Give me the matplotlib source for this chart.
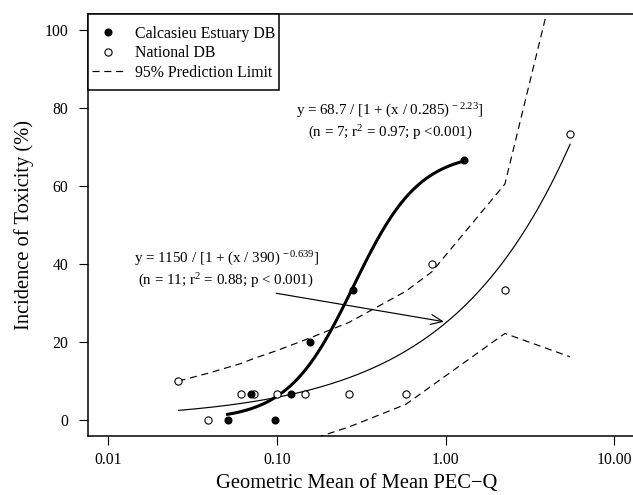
import numpy as np
import matplotlib
matplotlib.use("Agg")
from matplotlib import pyplot as plt
from matplotlib.patches import Rectangle

plt.rcParams['font.family'] = ['Liberation Serif', 'DejaVu Serif']
plt.rcParams['mathtext.fontset'] = 'custom'
plt.rcParams['mathtext.rm'] = 'Liberation Serif'
plt.rcParams['mathtext.it'] = 'Liberation Serif:italic'

######## data
# Calcasieu Estuary DB (filled points)
calc_x = [0.051, 0.070, 0.098, 0.122, 0.157, 0.284, 1.29]
calc_y = [0.0, 6.67, 0.0, 6.67, 20.0, 33.3, 66.7]

# National DB (open points)
nat_x = [0.0261, 0.0392, 0.0614, 0.0733, 0.100, 0.146, 0.267, 0.581, 0.83, 2.25, 5.48]
nat_y = [10.0, 0.0, 6.67, 6.67, 6.67, 6.67, 6.67, 6.67, 40.0, 33.3, 73.3]

# 95% prediction limits, evaluated at the national x values
upper_pl = [10.0, 12.0, 14.5, 15.8, 17.8, 20.5, 25.0, 33.0, 38.0, 60.5, 129.0]
lower_pl = [-12.0, -11.0, -10.0, -9.5, -8.0, -5.5, -1.8, 4.0, 8.8, 22.2, 16.2]

# fitted models as printed on the chart: y = a / [1 + (x / b)^c]
calc_fit = (68.7, 0.285, -2.23)
nat_fit = (1150.0, 390.0, -0.639)

xticks = [0.01, 0.1, 1.0, 10.0]
xtick_labels = ['0.01', '0.10', '1.00', '10.00']
yticks = [0, 20, 40, 60, 80, 100]


def model(x, p):
    a, b, c = p
    return a / (1.0 + (x / b) ** c)


fig = plt.figure(figsize=(6.33, 4.95), dpi=100)
ax = fig.add_axes([0.139, 0.1192, 0.8632, 0.8525])

# fitted curves
xc = np.logspace(np.log10(min(calc_x)), np.log10(max(calc_x)), 200)
ax.plot(xc, model(xc, calc_fit), color='black', lw=2.2, zorder=3)
xn = np.logspace(np.log10(min(nat_x)), np.log10(max(nat_x)), 200)
ax.plot(xn, model(xn, nat_fit), color='black', lw=0.85, zorder=3)

# prediction limits
ax.plot(nat_x, upper_pl, color='black', lw=0.85, dashes=(6, 4), zorder=2)
ax.plot(nat_x, lower_pl, color='black', lw=0.85, dashes=(6, 4), zorder=2)

# points
ax.plot(calc_x, calc_y, 'o', color='black', ms=4.8, zorder=5,
        label='Calcasieu Estuary DB')
ax.plot(nat_x, nat_y, 'o', mfc='white', mec='black', mew=0.8, ms=5.2,
        zorder=4, label='National DB')
ax.plot([], [], color='black', lw=0.85, dashes=(6, 4),
        label='95% Prediction Limit')

# equations
fs_eq = 10.8
ax.text(0.47, 79.2, r'y = 68.7 / [1 + (x / 0.285)$^{\,-2.23}$]',
        ha='center', va='center', fontsize=fs_eq)
ax.text(0.47, 73.6, r'(n = 7; r$^2$ = 0.97; p <0.001)',
        ha='center', va='center', fontsize=fs_eq)
ax.text(0.0501, 41.4, r'y = 1150 / [1 + (x / 390)$^{\,-0.639}$]',
        ha='center', va='center', fontsize=fs_eq)
ax.text(0.0501, 35.8, r'(n = 11; r$^2$ = 0.88; p < 0.001)',
        ha='center', va='center', fontsize=fs_eq)
ax.annotate('', xy=(0.98, 25.2), xytext=(0.099, 32.5),
            arrowprops=dict(arrowstyle='->,head_length=0.7,head_width=0.3',
                            lw=0.85, color='black', shrinkA=0, shrinkB=0,
                            mutation_scale=12))

ax.set_xscale('log')
ax.set_xlim(10 ** -2.12, 10 ** 1.12)
ax.set_ylim(-4.1, 104.1)
ax.set_xticks(xticks)
ax.set_xticklabels(xtick_labels)
ax.minorticks_off()
ax.set_yticks(yticks)
ax.tick_params(direction='out', length=6.5, width=0.8, labelsize=11.3)
ax.tick_params(axis='x', pad=5)
ax.tick_params(axis='y', pad=7.5)
for s in ax.spines.values():
    s.set_linewidth(1.1)

ax.set_xlabel('Geometric Mean of Mean PEC\u2212Q', fontsize=14.8,
              labelpad=4, x=0.4918)
ax.set_ylabel('Incidence of Toxicity (%)', fontsize=14.8, labelpad=8)

# legend box (R style: tight on the right, handles close to the border)
ax.add_patch(Rectangle((0, 0.820), 0.349, 0.18, transform=ax.transAxes,
                       facecolor='white', edgecolor='black', lw=1.1,
                       clip_on=False, zorder=6))
leg = ax.legend(loc='upper left', bbox_to_anchor=(-0.0146, 1.0),
                borderaxespad=0, frameon=False, fontsize=11.4,
                handlelength=2.0, handletextpad=0.72, borderpad=0.75,
                labelspacing=0.22)
leg.set_zorder(7)

fig.savefig('out.png', dpi=100)
